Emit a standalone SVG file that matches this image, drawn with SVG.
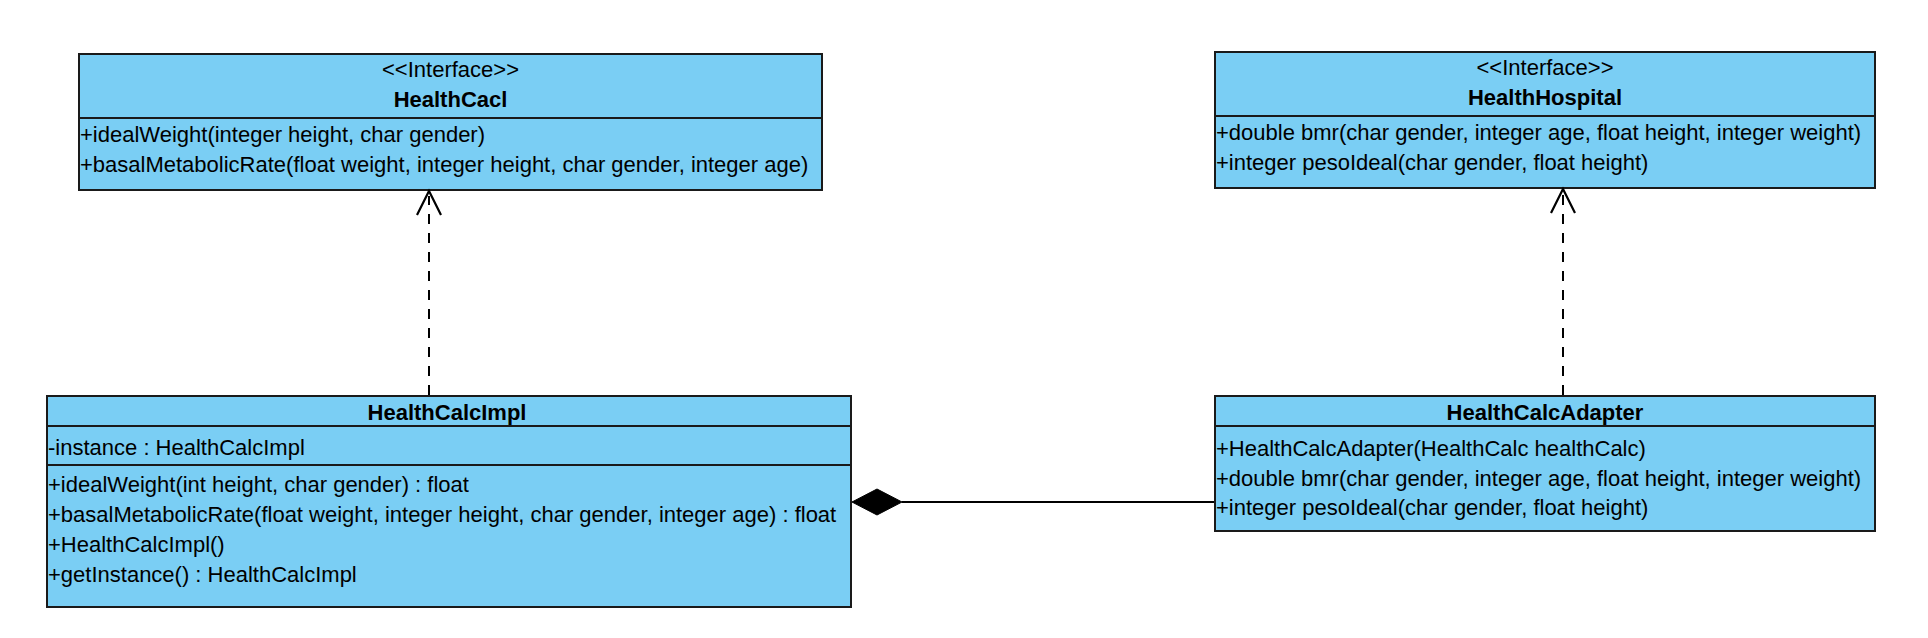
<svg xmlns="http://www.w3.org/2000/svg" width="1928" height="638" viewBox="0 0 1928 638">
  <defs>
    <style>
      .box { fill: #7acef4; stroke: #1a1a1a; stroke-width: 2; }
      .sep { stroke: #1a1a1a; stroke-width: 2; }
      .t { font-family: "Liberation Sans", Arial, sans-serif; font-size: 22px; fill: #000; }
      .c { text-anchor: middle; }
      .b { font-weight: bold; }
      .dash { stroke: #000; stroke-width: 2; stroke-dasharray: 10 9; fill: none; }
      .line { stroke: #000; stroke-width: 2; fill: none; }
      .head { stroke: #000; stroke-width: 2.2; fill: none; }
    </style>
  </defs>
  <rect width="1928" height="638" fill="#fff"/>

  <g id="HealthCacl">
    <rect class="box" x="79" y="54" width="743" height="136"/>
    <line class="sep" x1="79" y1="118" x2="822" y2="118"/>
    <text class="t c" x="450.5" y="77">&lt;&lt;Interface&gt;&gt;</text>
    <text class="t c b" x="450.5" y="107">HealthCacl</text>
    <text class="t" x="80" y="142">+idealWeight(integer height, char gender)</text>
    <text class="t" x="80" y="172">+basalMetabolicRate(float weight, integer height, char gender, integer age)</text>
  </g>

  <g id="HealthHospital">
    <rect class="box" x="1215" y="52" width="660" height="136"/>
    <line class="sep" x1="1215" y1="116" x2="1875" y2="116"/>
    <text class="t c" x="1545" y="75">&lt;&lt;Interface&gt;&gt;</text>
    <text class="t c b" x="1545" y="105">HealthHospital</text>
    <text class="t" x="1216" y="140">+double bmr(char gender, integer age, float height, integer weight)</text>
    <text class="t" x="1216" y="170">+integer pesoIdeal(char gender, float height)</text>
  </g>

  <g id="HealthCalcImpl">
    <rect class="box" x="47" y="396" width="804" height="211"/>
    <line class="sep" x1="47" y1="426" x2="851" y2="426"/>
    <line class="sep" x1="47" y1="465" x2="851" y2="465"/>
    <text class="t c b" x="447" y="420">HealthCalcImpl</text>
    <text class="t" x="48" y="455">-instance : HealthCalcImpl</text>
    <text class="t" x="48" y="492">+idealWeight(int height, char gender) : float</text>
    <text class="t" x="48" y="522">+basalMetabolicRate(float weight, integer height, char gender, integer age) : float</text>
    <text class="t" x="48" y="552">+HealthCalcImpl()</text>
    <text class="t" x="48" y="582">+getInstance() : HealthCalcImpl</text>
  </g>

  <g id="HealthCalcAdapter">
    <rect class="box" x="1215" y="396" width="660" height="135"/>
    <line class="sep" x1="1215" y1="426" x2="1875" y2="426"/>
    <text class="t c b" x="1545" y="420">HealthCalcAdapter</text>
    <text class="t" x="1216" y="456">+HealthCalcAdapter(HealthCalc healthCalc)</text>
    <text class="t" x="1216" y="486">+double bmr(char gender, integer age, float height, integer weight)</text>
    <text class="t" x="1216" y="515">+integer pesoIdeal(char gender, float height)</text>
  </g>

  <g id="connectors">
    <line class="dash" x1="429" y1="395" x2="429" y2="196"/>
    <path class="head" d="M417 215 L429 191 L441 215"/>
    <line class="dash" x1="1563" y1="395" x2="1563" y2="194"/>
    <path class="head" d="M1551 213 L1563 189 L1575 213"/>
    <line class="line" x1="902" y1="502" x2="1214" y2="502"/>
    <polygon points="852,502 877,489 902,502 877,515" fill="#000" stroke="#000" stroke-width="1"/>
  </g>
</svg>
